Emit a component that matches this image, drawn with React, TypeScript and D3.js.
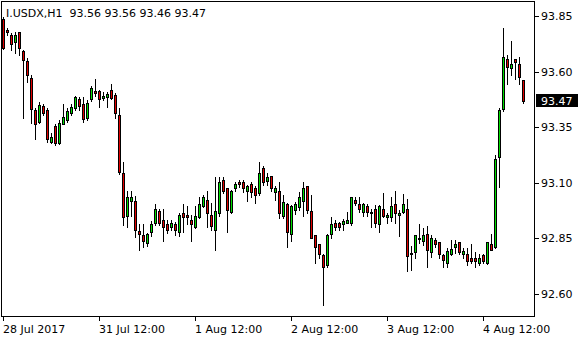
import React from "react";
import * as d3 from "d3";

const title = "I.USDX,H1  93.56 93.56 93.46 93.47";

const opens = [
  93.835, 93.787, 93.765, 93.734, 93.777, 93.693, 93.648, 93.572, 93.427, 93.374,
  93.445, 93.427, 93.282, 93.355, 93.28, 93.364, 93.382, 93.412, 93.435, 93.475,
  93.453, 93.392, 93.475, 93.514, 93.514, 93.482, 93.484, 93.517, 93.495, 93.405,
  93.142, 92.951, 93.019, 93.019, 92.882, 92.864, 92.83, 92.879, 92.92, 92.972,
  92.932, 92.913, 92.902, 92.913, 92.879, 92.962, 92.954, 92.932, 92.902, 92.944,
  92.995, 93.022, 92.954, 92.89, 92.962, 93.112, 93.075, 92.969, 93.075, 93.102,
  93.102, 93.062, 93.093, 93.075, 93.052, 93.165, 93.109, 93.131, 93.059, 93.062,
  92.951, 93.004, 92.872, 92.977, 92.992, 93.019, 93.085, 92.972, 92.864, 92.823,
  92.775, 92.73, 92.872, 92.921, 92.917, 92.913, 92.921, 92.92, 93.022, 93.004,
  92.969, 92.995, 92.962, 92.98, 92.913, 92.98, 92.944, 92.944, 93.004, 92.954,
  92.969, 92.98, 92.783, 92.791, 92.85, 92.839, 92.872, 92.789, 92.842, 92.832,
  92.775, 92.741, 92.782, 92.812, 92.832, 92.782, 92.782, 92.76, 92.76, 92.74,
  92.775, 92.74, 92.823, 92.812, 93.214, 93.43, 93.655, 93.615, 93.655, 93.634,
  93.56,
];

const highs = [
  93.845, 93.796, 93.775, 93.778, 93.778, 93.697, 93.661, 93.585, 93.436, 93.464,
  93.454, 93.436, 93.324, 93.364, 93.382, 93.454, 93.436, 93.454, 93.49, 93.486,
  93.486, 93.472, 93.535, 93.565, 93.517, 93.508, 93.509, 93.544, 93.502, 93.435,
  93.192, 93.062, 93.062, 93.041, 92.913, 92.914, 92.875, 92.928, 93.003, 92.98,
  92.98, 92.932, 92.932, 92.924, 92.962, 93.003, 92.995, 92.954, 92.995, 93.037,
  93.045, 93.062, 93.01, 93.127, 93.127, 93.124, 93.077, 93.067, 93.102, 93.112,
  93.112, 93.089, 93.102, 93.085, 93.192, 93.175, 93.142, 93.131, 93.085, 93.102,
  93.045, 93.007, 92.999, 93.012, 93.059, 93.102, 93.085, 93.045, 92.864, 92.827,
  92.782, 92.872, 92.944, 92.932, 92.924, 92.936, 92.969, 93.037, 93.034, 93.034,
  93.01, 93.004, 92.98, 92.999, 92.999, 93.053, 92.962, 93.037, 93.062, 92.977,
  93.048, 93.025, 92.815, 92.864, 92.914, 92.896, 92.905, 92.864, 92.852, 92.832,
  92.779, 92.805, 92.842, 92.842, 92.834, 92.809, 92.805, 92.824, 92.79, 92.782,
  92.782, 92.832, 92.872, 93.225, 93.435, 93.795, 93.675, 93.738, 93.655, 93.664,
  93.56,
];

const lows = [
  93.7, 93.765, 93.697, 93.684, 93.675, 93.391, 93.554, 93.369, 93.297, 93.369,
  93.405, 93.284, 93.279, 93.27, 93.274, 93.363, 93.373, 93.405, 93.427, 93.427,
  93.374, 93.382, 93.468, 93.49, 93.442, 93.472, 93.442, 93.475, 93.392, 93.139,
  92.91, 92.902, 92.951, 92.857, 92.797, 92.812, 92.815, 92.861, 92.91, 92.91,
  92.839, 92.875, 92.887, 92.865, 92.861, 92.879, 92.913, 92.839, 92.899, 92.94,
  92.992, 92.902, 92.89, 92.8, 92.951, 93.052, 92.879, 92.962, 93.062, 93.082,
  93.059, 93.019, 93.037, 93.01, 93.045, 93.089, 93.089, 93.062, 93.022, 92.942,
  92.942, 92.812, 92.839, 92.959, 92.977, 92.951, 92.962, 92.85, 92.74, 92.76,
  92.55, 92.722, 92.85, 92.887, 92.887, 92.887, 92.92, 92.91, 92.999, 92.969,
  92.95, 92.95, 92.902, 92.902, 92.879, 92.947, 92.92, 92.929, 92.92, 92.86,
  92.962, 92.702, 92.707, 92.76, 92.83, 92.82, 92.722, 92.767, 92.812, 92.76,
  92.722, 92.722, 92.775, 92.785, 92.779, 92.76, 92.73, 92.74, 92.722, 92.73,
  92.74, 92.737, 92.797, 92.805, 93.082, 93.424, 93.543, 93.585, 93.565, 93.543,
  93.46,
];

const closes = [
  93.705, 93.777, 93.723, 93.765, 93.705, 93.652, 93.585, 93.432, 93.363, 93.45,
  93.412, 93.295, 93.304, 93.277, 93.37, 93.394, 93.424, 93.442, 93.484, 93.445,
  93.385, 93.46, 93.525, 93.502, 93.475, 93.491, 93.498, 93.482, 93.412, 93.149,
  92.944, 93.034, 93.034, 92.89, 92.872, 92.839, 92.872, 92.913, 92.98, 92.92,
  92.902, 92.89, 92.92, 92.89, 92.954, 92.944, 92.944, 92.913, 92.951, 93.003,
  93.034, 92.962, 92.905, 92.972, 93.102, 93.062, 92.977, 93.062, 93.094, 93.093,
  93.075, 93.085, 93.059, 93.045, 93.142, 93.102, 93.124, 93.075, 93.075, 92.962,
  93.012, 92.879, 92.995, 93.004, 93.037, 93.075, 92.977, 92.85, 92.812, 92.782,
  92.722, 92.864, 92.914, 92.902, 92.902, 92.929, 92.932, 93.034, 93.01, 92.98,
  93.004, 92.967, 92.969, 92.92, 92.995, 92.951, 92.954, 92.995, 92.962, 92.965,
  93.004, 92.773, 92.782, 92.864, 92.849, 92.864, 92.797, 92.85, 92.823, 92.782,
  92.751, 92.793, 92.802, 92.824, 92.789, 92.793, 92.749, 92.749, 92.749, 92.76,
  92.749, 92.832, 92.8, 93.205, 93.427, 93.664, 93.622, 93.634, 93.644, 93.574,
  93.47,
];

const priceTicks = [93.85, 93.6, 93.35, 93.1, 92.85, 92.6];
const timeTickBars = [0, 24, 48, 72, 96, 120];
const timeTickLabels = ["28 Jul 2017", "31 Jul 12:00", "1 Aug 12:00", "2 Aug 12:00", "3 Aug 12:00", "4 Aug 12:00"];
const lastPrice = 93.47;

const W = 580;
const H = 340;
const plotLeft = 1.5;
const plotRight = 534.5;
const plotTop = 1.5;
const plotBottom = 316.5;
const UP = "#00dd00";
const DOWN = "#e00000";
const FONT = "DejaVu Sans, Tahoma, sans-serif";

export default function App() {
  const x = d3.scaleLinear().domain([0, opens.length - 1]).range([3, 3 + 4 * (opens.length - 1)]);
  const y = d3.scaleLinear().domain([92.6, 93.85]).range([294, 16]);
  const fmt = d3.format(".2f");
  const ly = Math.round(y(lastPrice));

  return (
    <svg
      width={W}
      height={H}
      style={{ position: "fixed", left: 0, top: 0, background: "#fff" }}
      shapeRendering="crispEdges"
    >
      <defs>
        <clipPath id="plot">
          <rect x={2} y={2} width={532} height={314} />
        </clipPath>
      </defs>
      <rect x={0} y={0} width={W} height={H} fill="#fff" />
      <g clipPath="url(#plot)">
        {opens.map((o, i) => {
          const c = closes[i];
          const cx = Math.round(x(i));
          const top = Math.round(y(Math.max(o, c)));
          const bot = Math.round(y(Math.min(o, c)));
          const hy = Math.round(y(highs[i]));
          const lyy = Math.round(y(lows[i]));
          return (
            <g key={i}>
              <line x1={cx + 0.5} x2={cx + 0.5} y1={hy} y2={lyy + 1} stroke="#000" strokeWidth={1} />
              <rect
                x={cx - 0.5}
                y={top + 0.5}
                width={2}
                height={Math.max(0, bot - top)}
                fill={c >= o ? UP : DOWN}
                stroke="#000"
                strokeWidth={1}
              />
            </g>
          );
        })}
      </g>
      <rect
        x={plotLeft}
        y={plotTop}
        width={plotRight - plotLeft}
        height={plotBottom - plotTop}
        fill="none"
        stroke="#000"
        strokeWidth={1}
      />
      <text x={6} y={17} fontFamily={FONT} fontSize={11} fill="#000" style={{ whiteSpace: "pre" }}>
        {title}
      </text>
      {priceTicks.map((p) => {
        const ty = Math.round(y(p));
        return (
          <g key={p}>
            <line x1={535} x2={539} y1={ty + 0.5} y2={ty + 0.5} stroke="#000" />
            <text x={541} y={ty + 4} fontFamily={FONT} fontSize={11} fill="#000">
              {fmt(p)}
            </text>
          </g>
        );
      })}
      <rect x={536} y={ly - 7} width={42} height={13} fill="#000" />
      <text x={541} y={ly + 4} fontFamily={FONT} fontSize={11} fill="#fff">
        {fmt(lastPrice)}
      </text>
      {timeTickBars.map((b, j) => {
        const tx = Math.round(x(b));
        return (
          <g key={b}>
            <line x1={tx + 0.5} x2={tx + 0.5} y1={317} y2={321} stroke="#000" />
            <text x={tx} y={333} fontFamily={FONT} fontSize={11} fill="#000">
              {timeTickLabels[j]}
            </text>
          </g>
        );
      })}
    </svg>
  );
}
